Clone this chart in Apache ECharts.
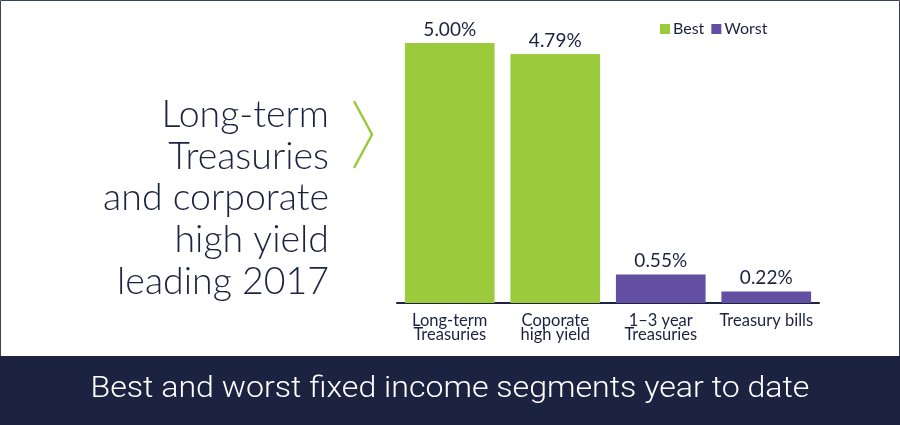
<!DOCTYPE html>
<html><head><meta charset="utf-8">
<script src="https://cdn.jsdelivr.net/npm/echarts@6/dist/echarts.min.js"></script>
<style>html,body{margin:0;padding:0;background:#fff}#c{width:900px;height:425px}</style>
</head><body><div id="c"></div>
<script>
const categories = ["Long-term\nTreasuries", "Coporate\nhigh yield", "1\u20133 year\nTreasuries", "Treasury bills"];
const bestValues = [5.00, 4.79, null, null];
const worstValues = [null, null, 0.55, 0.22];
const titleLines = ["Long-term", "Treasuries", "and corporate", "high yield", "leading 2017"];
const bannerText = "Best and worst fixed income segments year to date";

const NAVY = '#1b2340', GREEN = '#9bca3c', PURPLE = '#634fa2';
const chart = echarts.init(document.getElementById('c'), null, {renderer: 'canvas'});
const labelCfg = {show: true, position: 'top', distance: 4, color: NAVY, fontSize: 19, fontFamily: 'Lato',
  formatter: p => p.value == null ? '' : Number(p.value).toFixed(2) + '%'};
const graphics = [
  {type: 'rect', shape: {x: 0.5, y: 0.5, width: 899, height: 424}, style: {fill: 'none', stroke: '#3a4258', lineWidth: 1}, z: 1},
  {type: 'rect', shape: {x: 0, y: 356, width: 900, height: 69}, style: {fill: NAVY}, z: 2},
  {type: 'text', x: 450, y: 389, style: {text: bannerText, fill: '#fff', fontSize: 30, fontFamily: 'Roboto', fontWeight: 300, align: 'center', verticalAlign: 'middle'}, scaleX: 1.07, originX: 0, z: 3},
  {type: 'polyline', shape: {points: [[354, 101], [372, 134.5], [354, 168]]}, style: {stroke: GREEN, lineWidth: 2.5, fill: 'none'}, z: 3}
];
titleLines.forEach((t, i) => {
  graphics.push({type: 'text', x: 329, y: 115 + i * 41.7, style: {text: t, fill: NAVY, fontSize: 37.5, fontFamily: 'Lato', fontWeight: 300, align: 'right', verticalAlign: 'middle'}, z: 3});
});
chart.setOption({
  animation: false,
  backgroundColor: '#fff',
  grid: {left: 397, right: 81, top: 43, bottom: 122, containLabel: false},
  legend: {show: true, left: 660, top: 21, padding: 0, itemWidth: 10, itemHeight: 10, itemGap: 7, icon: 'rect',
    textStyle: {color: NAVY, fontSize: 16, fontFamily: 'Lato', padding: [0, 0, 0, -2]},
    data: ['Best', 'Worst']},
  xAxis: {type: 'category', data: categories,
    axisLine: {lineStyle: {color: NAVY, width: 2}}, axisTick: {show: false},
    axisLabel: {color: NAVY, fontSize: 16.5, fontFamily: 'Lato', lineHeight: 13.5, margin: 11, interval: 0}},
  yAxis: {type: 'value', min: 0, max: 5, show: false, splitLine: {show: false}},
  series: [
    {name: 'Best', type: 'bar', stack: 's', data: bestValues, barWidth: '85%', itemStyle: {color: GREEN}, label: labelCfg},
    {name: 'Worst', type: 'bar', stack: 's', data: worstValues, barWidth: '85%', itemStyle: {color: PURPLE}, label: labelCfg}
  ],
  graphic: graphics
});
</script></body></html>
